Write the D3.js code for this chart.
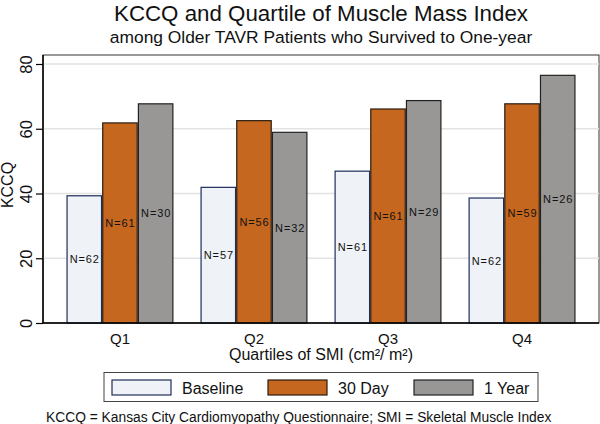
<!DOCTYPE html>
<html><head><meta charset="utf-8">
<script src="https://cdn.jsdelivr.net/npm/d3@7"></script>
<style>
html,body{margin:0;padding:0;background:#fff;}
svg{display:block;font-family:"Liberation Sans",Arial,Helvetica,sans-serif;}
</style></head>
<body>
<svg id="chart" width="600" height="424"></svg>
<script>
const categories = ["Q1","Q2","Q3","Q4"];
const seriesNames = ["Baseline","30 Day","1 Year"];
const baseline = [39.3, 41.9, 46.9, 38.6];
const day30 = [61.8, 62.5, 66.1, 67.7];
const year1 = [67.7, 58.9, 68.7, 76.5];
const nBaseline = [62, 57, 61, 62];
const nDay30 = [61, 56, 61, 59];
const nYear1 = [30, 32, 29, 26];
const yTicks = [0, 20, 40, 60, 80];

(function() {
const fills = ["#eff2f6", "#c5671e", "#989796"];
const strokes = ["#1f2d5c", "#2a1c12", "#222222"];

const svg = d3.select("#chart");
const pL = 43, pR = 599, pT = 55, pB = 323;

const x0 = d3.scaleBand().domain(categories).range([pL, pR]).paddingInner(0.2015).paddingOuter(0.175);
const x1 = d3.scaleBand().domain(seriesNames).range([0, x0.bandwidth()]).padding(0);
const y = d3.scaleLinear().domain([0, 82.78]).range([pB, pT]);

// frame
svg.append("rect").attr("x", pL).attr("y", pT).attr("width", pR - pL).attr("height", pB - pT)
  .attr("fill", "none").attr("stroke", "#333").attr("stroke-width", 1);

// gridlines
svg.append("g").selectAll("line").data(yTicks.filter(d => d > 0)).join("line")
  .attr("x1", pL).attr("x2", pR).attr("y1", d => y(d)).attr("y2", d => y(d))
  .attr("stroke", "#e3e3e3").attr("stroke-width", 1.5);

// bars
const data = categories.map((c, i) => ({
  cat: c,
  vals: [
    {s: seriesNames[0], v: baseline[i], n: nBaseline[i], k: 0},
    {s: seriesNames[1], v: day30[i], n: nDay30[i], k: 1},
    {s: seriesNames[2], v: year1[i], n: nYear1[i], k: 2}
  ]
}));

const g = svg.append("g").selectAll("g").data(data).join("g")
  .attr("transform", d => `translate(${x0(d.cat)},0)`);
g.selectAll("rect").data(d => d.vals).join("rect")
  .attr("x", d => x1(d.s) + 0.6).attr("width", x1.bandwidth() - 1.2)
  .attr("y", d => y(d.v)).attr("height", d => y(0) - y(d.v))
  .attr("fill", d => fills[d.k]).attr("stroke", d => strokes[d.k]).attr("stroke-width", 1.2);
g.selectAll("text").data(d => d.vals).join("text")
  .attr("x", d => x1(d.s) + x1.bandwidth() / 2 + 0.5)
  .attr("y", d => (y(d.v) + y(0)) / 2 + 4)
  .attr("text-anchor", "middle").attr("font-size", 11).attr("letter-spacing", 0.9)
  .attr("fill", "#111").text(d => "N=" + d.n);

// y axis
const yAxis = d3.axisLeft(y).tickValues(yTicks).tickSize(7).tickPadding(4);
const ya = svg.append("g").attr("transform", `translate(${pL},0)`).call(yAxis);
ya.select(".domain").attr("stroke", "#000").attr("stroke-width", 1.5).attr("d", `M0,${pT}V${pB}`);
ya.selectAll(".tick line").attr("stroke", "#000").attr("stroke-width", 1.2);
ya.selectAll(".tick text").attr("font-size", 16.5).attr("fill", "#111")
  .attr("x", 0).attr("y", 0).attr("dy", 0)
  .attr("transform", "translate(-11.5,0) rotate(-90)")
  .attr("text-anchor", "middle");

// x axis
const xAxis = d3.axisBottom(x0).tickSize(0).tickPadding(10);
const xa = svg.append("g").attr("transform", `translate(0,${pB})`).call(xAxis);
xa.select(".domain").attr("stroke", "#000").attr("stroke-width", 1.5).attr("d", `M${pL},0H${pR}`);
xa.selectAll(".tick text").attr("font-size", 15).attr("fill", "#111");

// titles
svg.append("text").attr("x", 321).attr("y", 20.5).attr("text-anchor", "middle")
  .attr("font-size", 22.3).attr("fill", "#111").text("KCCQ and Quartile of Muscle Mass Index");
svg.append("text").attr("x", 321).attr("y", 43).attr("text-anchor", "middle")
  .attr("font-size", 17.4).attr("fill", "#111").text("among Older TAVR Patients who Survived to One-year");
svg.append("text").attr("x", 321).attr("y", 360).attr("text-anchor", "middle")
  .attr("font-size", 16).attr("fill", "#111").text("Quartiles of SMI (cm²/ m²)");
svg.append("text").attr("transform", `translate(13.2,185) rotate(-90)`).attr("text-anchor", "middle")
  .attr("font-size", 16).attr("fill", "#111").text("KCCQ");

// legend
svg.append("rect").attr("x", 104).attr("y", 372.5).attr("width", 434).attr("height", 29)
  .attr("fill", "#fff").attr("stroke", "#444").attr("stroke-width", 1);
const legX = [112, 268, 414];
const lg = svg.append("g").selectAll("g").data(seriesNames).join("g")
  .attr("transform", (d, i) => `translate(${legX[i]},380)`);
lg.append("rect").attr("width", 59).attr("height", 15)
  .attr("fill", (d, i) => fills[i]).attr("stroke", (d, i) => strokes[i]).attr("stroke-width", 1.2);
lg.append("text").attr("x", 70).attr("y", 14).attr("font-size", 16).attr("fill", "#111").text(d => d);

// footnote
svg.append("text").attr("x", 46).attr("y", 421.5).attr("font-size", 13.8).attr("fill", "#111")
  .text("KCCQ = Kansas City Cardiomyopathy Questionnaire; SMI = Skeletal Muscle Index");
})();
</script>
</body></html>
